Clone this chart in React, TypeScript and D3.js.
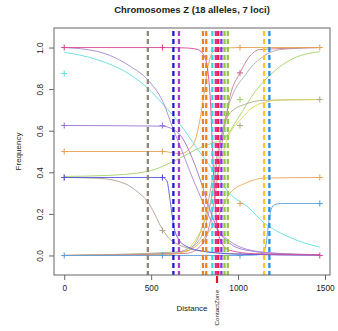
import React, { useRef, useEffect } from "react";
import * as d3 from "d3";

// plot box in page pixels (R style: 4% padding around the data range)
const W = 338;
const H = 331;
const BOX = { left: 54, right: 330, top: 28, bottom: 275 };
const FONT = "'Liberation Sans', Arial, sans-serif";

const xTicks = [0, 500, 1000, 1500];
const yTicks = [0, 0.2, 0.4, 0.6, 0.8, 1.0];
const contactZone = 879;

// sampling sites along the transect
const sites = [0, 565, 1011, 1470];

// estimated cline centres (dashed lines)
const clineCenters = [481, 628, 660, 798, 817, 852, 872, 886, 904, 922, 941, 1150, 1180];
const clineColors = [
  "#908878", "#1a1ad0", "#a444cc", "#e2862f", "#e2862f", "#3cd6de", "#e22c90",
  "#ea1c36", "#8e2ede", "#92c644", "#92c644", "#f0ca24", "#2690e0",
];

// fitted cline curves: [distance, frequency]
const magentaFit = [[0, 1], [565, 1], [700, 0.998], [770, 0.99], [810, 0.95], [839, 0.77], [856, 0.45], [875, 0.18], [900, 0.07], [950, 0.025], [1100, 0.008], [1470, 0.003]];
const purpleFit = [[0, 1], [188, 0.982], [379, 0.91], [479, 0.846], [570, 0.735], [628, 0.605], [667, 0.525], [720, 0.41], [780, 0.29], [850, 0.16], [950, 0.07], [1050, 0.03], [1200, 0.012], [1470, 0.004]];
const purple2Fit = [[0, 0.625], [565, 0.622], [628, 0.605], [667, 0.58], [720, 0.5], [780, 0.37], [830, 0.24], [880, 0.13], [950, 0.06], [1050, 0.025], [1250, 0.008], [1470, 0.003]];
const cyanFit = [[0, 0.977], [188, 0.942], [379, 0.87], [479, 0.806], [570, 0.726], [667, 0.63], [760, 0.52], [856, 0.41], [950, 0.3], [1063, 0.228], [1149, 0.157], [1245, 0.108], [1341, 0.072], [1470, 0.04]];
const orangeUpFit = [[0, 0.5], [565, 0.5], [667, 0.49], [740, 0.53], [780, 0.65], [805, 0.78], [830, 0.92], [856, 0.98], [900, 0.995], [1011, 1], [1470, 1]];
const greyDownFit = [[0, 0.375], [200, 0.371], [350, 0.345], [430, 0.3], [479, 0.26], [520, 0.2], [555, 0.14], [600, 0.085], [650, 0.055], [700, 0.038], [800, 0.02], [1000, 0.008], [1470, 0.002]];
const blueFit = [[0, 0.375], [565, 0.375], [590, 0.36], [610, 0.26], [628, 0.15], [660, 0.075], [700, 0.045], [800, 0.02], [1000, 0.006], [1470, 0.001]];
const greenFit = [[0, 0.38], [250, 0.385], [479, 0.404], [570, 0.43], [667, 0.469], [760, 0.51], [850, 0.54], [916, 0.56], [1000, 0.66], [1100, 0.79], [1200, 0.88], [1300, 0.94], [1470, 0.98]];
const dodgerFit = [[0, 0], [1000, 0], [1100, 0.002], [1140, 0.01], [1160, 0.05], [1175, 0.15], [1190, 0.22], [1210, 0.245], [1250, 0.25], [1470, 0.25]];
const orangeLowFit = [[0, 0], [550, 0.002], [650, 0.01], [750, 0.04], [820, 0.1], [880, 0.18], [954, 0.3], [1050, 0.35], [1150, 0.372], [1470, 0.375]];
const yellowFit = [[0, 0], [650, 0.01], [760, 0.08], [840, 0.25], [900, 0.45], [935, 0.55], [1021, 0.66], [1126, 0.73], [1250, 0.748], [1470, 0.75]];
const oliveFit = [[0, 0], [700, 0.02], [800, 0.15], [860, 0.4], [910, 0.6], [954, 0.686], [1050, 0.73], [1144, 0.746], [1470, 0.75]];
const greyUpFit = [[0, 0], [600, 0.01], [750, 0.05], [830, 0.2], [880, 0.45], [935, 0.686], [1050, 0.878], [1150, 0.96], [1241, 0.99], [1470, 1]];
const rosyUpFit = [[0, 0], [700, 0.01], [800, 0.06], [860, 0.25], [910, 0.55], [954, 0.766], [1011, 0.878], [1060, 0.95], [1126, 0.99], [1470, 1]];

// observed frequencies at the sites (null = not visible)
const magentaObs = [1, 1, null, 0];
const purple2Obs = [0.625, 0.625, null, null];
const cyanObs = [0.875, null, null, null];
const orangeUpObs = [0.5, 0.5, 1, 1];
const greyDownObs = [0.375, 0.12, null, null];
const blueObs = [0.375, 0.375, null, null];
const dodgerObs = [0, 0, 0, 0.25];
const orangeLowObs = [null, null, 0.25, 0.375];
const oliveObs = [null, null, 0.625, 0.75];
const greenObs = [null, null, 0.75, null];
const rosyObs = [null, null, 0.878, null];

const alleles = [
  { fit: greyDownFit, obs: greyDownObs, color: "#ae9f90" },
  { fit: greenFit, obs: greenObs, color: "#a4d068" },
  { fit: oliveFit, obs: oliveObs, color: "#acac88" },
  { fit: yellowFit, obs: null, color: "#e0d456" },
  { fit: greyUpFit, obs: null, color: "#b0a8a8" },
  { fit: rosyUpFit, obs: rosyObs, color: "#cc7890" },
  { fit: orangeLowFit, obs: orangeLowObs, color: "#eaa65c" },
  { fit: orangeUpFit, obs: orangeUpObs, color: "#e6a256" },
  { fit: dodgerFit, obs: dodgerObs, color: "#58a0dc" },
  { fit: blueFit, obs: blueObs, color: "#5656da" },
  { fit: cyanFit, obs: cyanObs, color: "#62dede" },
  { fit: purple2Fit, obs: purple2Obs, color: "#9a74cc" },
  { fit: purpleFit, obs: null, color: "#a886d2" },
  { fit: magentaFit, obs: magentaObs, color: "#d84898" },
];

export default function App() {
  const svgRef = useRef<SVGSVGElement>(null);

  useEffect(() => {
    const svg = d3.select(svgRef.current);
    svg.selectAll("*").remove();

    const x = d3.scaleLinear().domain([-58.8, 1528.8]).range([BOX.left, BOX.right]);
    const y = d3.scaleLinear().domain([-0.094, 1.094]).range([BOX.bottom, BOX.top]);

    svg.append("rect").attr("width", W).attr("height", H).attr("fill", "#fff");

    const clip = svg.append("defs").append("clipPath").attr("id", "plotclip");
    clip.append("rect")
      .attr("x", BOX.left).attr("y", BOX.top)
      .attr("width", BOX.right - BOX.left).attr("height", BOX.bottom - BOX.top);

    const plot = svg.append("g").attr("clip-path", "url(#plotclip)");

    const line = d3.line<number[]>()
      .x((d) => x(d[0]))
      .y((d) => y(d[1]))
      .curve(d3.curveMonotoneX);

    // fitted curves
    alleles.forEach((a) => {
      plot.append("path")
        .attr("d", line(a.fit))
        .attr("fill", "none")
        .attr("stroke", a.color)
        .attr("stroke-width", 0.9);
    });

    // observed points as "+"
    alleles.forEach((a) => {
      if (!a.obs) return;
      a.obs.forEach((v, i) => {
        if (v === null) return;
        const cx = x(sites[i]);
        const cy = y(v);
        plot.append("path")
          .attr("d", `M${cx - 3},${cy}H${cx + 3}M${cx},${cy - 3}V${cy + 3}`)
          .attr("stroke", a.color)
          .attr("stroke-width", 1.1);
      });
    });

    // cline centres
    plot.selectAll(".centre")
      .data(clineCenters)
      .join("line")
      .attr("class", "centre")
      .attr("x1", (d) => x(d)).attr("x2", (d) => x(d))
      .attr("y1", BOX.top).attr("y2", BOX.bottom)
      .attr("stroke", (_, i) => clineColors[i])
      .attr("stroke-width", 2.3)
      .attr("stroke-dasharray", "5,3")
      .attr("stroke-dashoffset", -3);

    // box
    svg.append("rect")
      .attr("x", BOX.left).attr("y", BOX.top)
      .attr("width", BOX.right - BOX.left).attr("height", BOX.bottom - BOX.top)
      .attr("fill", "none").attr("stroke", "#666").attr("stroke-width", 1);

    // x axis
    const xa = svg.append("g")
      .attr("transform", `translate(0,${BOX.bottom})`)
      .call(d3.axisBottom(x).tickValues(xTicks).tickSize(5).tickPadding(5).tickFormat(d3.format("d")));
    xa.select(".domain").remove();
    xa.selectAll("line").attr("stroke", "#666");
    xa.selectAll("text").attr("font-family", FONT).attr("font-size", 8.3).attr("fill", "#222");

    // y axis, labels rotated like R
    const ya = svg.append("g")
      .attr("transform", `translate(${BOX.left},0)`)
      .call(d3.axisLeft(y).tickValues(yTicks).tickSize(5).tickFormat(d3.format(".1f")));
    ya.select(".domain").remove();
    ya.selectAll("line").attr("stroke", "#666");
    ya.selectAll("text")
      .attr("font-family", FONT).attr("font-size", 8.3).attr("fill", "#222")
      .attr("x", null).attr("dy", null)
      .attr("text-anchor", "middle")
      .attr("transform", "translate(-11,0) rotate(-90)");

    // contact zone marker
    svg.append("line")
      .attr("x1", x(contactZone)).attr("x2", x(contactZone))
      .attr("y1", BOX.bottom + 1).attr("y2", BOX.bottom + 8)
      .attr("stroke", "#e8102a").attr("stroke-width", 2.2);
    svg.append("text")
      .attr("transform", `translate(${x(contactZone) + 2},${BOX.bottom + 15}) rotate(-90)`)
      .attr("text-anchor", "end")
      .attr("font-family", FONT).attr("font-size", 6.2).attr("fill", "#222")
      .text("ContactZone");

    // titles
    svg.append("text")
      .attr("x", (BOX.left + BOX.right) / 2).attr("y", 13)
      .attr("text-anchor", "middle")
      .attr("font-family", FONT).attr("font-size", 9.5).attr("font-weight", "bold").attr("fill", "#222")
      .text("Chromosomes Z (18 alleles, 7 loci)");
    svg.append("text")
      .attr("x", (BOX.left + BOX.right) / 2).attr("y", 311)
      .attr("text-anchor", "middle")
      .attr("font-family", FONT).attr("font-size", 8).attr("fill", "#222")
      .text("Distance");
    svg.append("text")
      .attr("transform", `translate(21,${(BOX.top + BOX.bottom) / 2}) rotate(-90)`)
      .attr("text-anchor", "middle")
      .attr("font-family", FONT).attr("font-size", 8).attr("fill", "#222")
      .text("Frequency");
  }, []);

  return (
    <svg
      ref={svgRef}
      width={W}
      height={H}
      style={{ position: "absolute", left: 0, top: 0, display: "block" }}
    />
  );
}
